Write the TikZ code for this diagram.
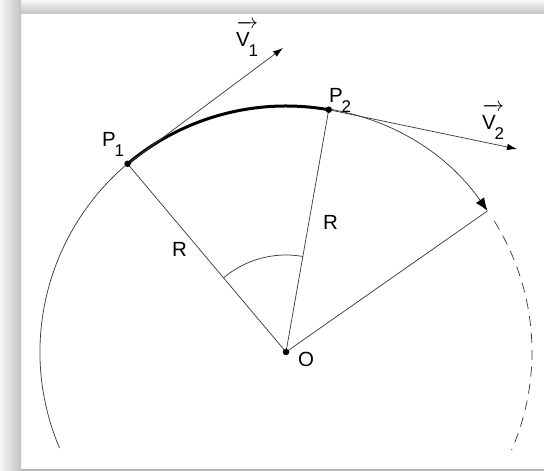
\documentclass[tikz,border=0pt]{standalone}
\usepackage{fontspec}
\setmainfont{Liberation Sans}
\usetikzlibrary{arrows.meta}
\newcommand\sbs[1]{\kern-1.2pt\raisebox{-10pt}{\fontsize{17}{19}\selectfont #1}}
\newcommand\vecl[2]{\ensuremath{\overrightarrow{\rule{0pt}{19pt}\hbox{#1\sbs{#2}}}}}
\begin{document}
\begin{tikzpicture}[x=1pt,y=1pt,
  thinline/.style={draw=black!75,line width=0.75pt},
  lbl/.style={inner sep=0pt,font=\fontsize{20.5}{24}\selectfont,text=black},
  dot/.style={circle,fill=black,inner sep=0pt,minimum size=6.5pt}]
\useasboundingbox (0,0) rectangle (544,471);
\fill[white] (0,0) rectangle (544,471);
\shade[top color=black!3,bottom color=black!24] (0,457) rectangle (544,471);
\shade[left color=black!3,right color=black!24] (0,0) rectangle (21,471);
\fill[black!28] (21,0) rectangle (544,2);

\coordinate (O) at (286,119);
\coordinate (P1) at ([shift={(130.1:246pt)}]O);
\coordinate (P2) at ([shift={(80:246pt)}]O);
\coordinate (A) at ([shift={(35:246pt)}]O);
\coordinate (L) at ([shift={(203:246pt)}]O);
\coordinate (D) at ([shift={(32.2:246pt)}]O);
\coordinate (Q1) at ([shift={(130.1:97pt)}]O);
\coordinate (V1) at (283,423);
\coordinate (V2) at (517,322);

% circle arc with arrow and dashed continuation
\draw[thinline,-{Latex[length=13pt,width=10pt,color=black]}] (L) arc[start angle=203,end angle=35,radius=246pt];
\draw[thinline,dash pattern=on 10pt off 7pt] (D) arc[start angle=32.2,end angle=-23.5,radius=246pt];
% thick arc P1-P2
\draw[line width=3pt,black] (P1) arc[start angle=130.1,end angle=80,radius=246pt];
% radii
\draw[thinline] (O) -- (P1);
\draw[thinline] (O) -- (P2);
\draw[thinline] (O) -- (A);
% angle arc
\draw[thinline] (Q1) arc[start angle=130.1,end angle=80,radius=97pt];
% velocity vectors
\draw[thinline,-{Latex[length=10pt,width=6.5pt,color=black]}] (P1) -- (V1);
\draw[thinline,-{Latex[length=10pt,width=6.5pt,color=black]}] (P2) -- (V2);
% dots
\node[dot] (dp1) at (P1) {};
\node[dot] (dp2) at (P2) {};
\node[dot] (dO) at (O) {};
% labels
\node[lbl,anchor=base west] (lp1) at (102,324) {P\sbs{1}};
\node[lbl,anchor=base west] (lp2) at (329,368) {P\sbs{2}};
\node[lbl,anchor=base west] (lv1) at (236,424) {\vecl{V}{1}};
\node[lbl,anchor=base west] (lv2) at (482,341) {\vecl{V}{2}};
\node[lbl,anchor=base west] (lr1) at (172,214) {R};
\node[lbl,anchor=base west] (lr2) at (323,241) {R};
\node[lbl,anchor=base west] (lo) at (298,104) {O};
\end{tikzpicture}
\end{document}
